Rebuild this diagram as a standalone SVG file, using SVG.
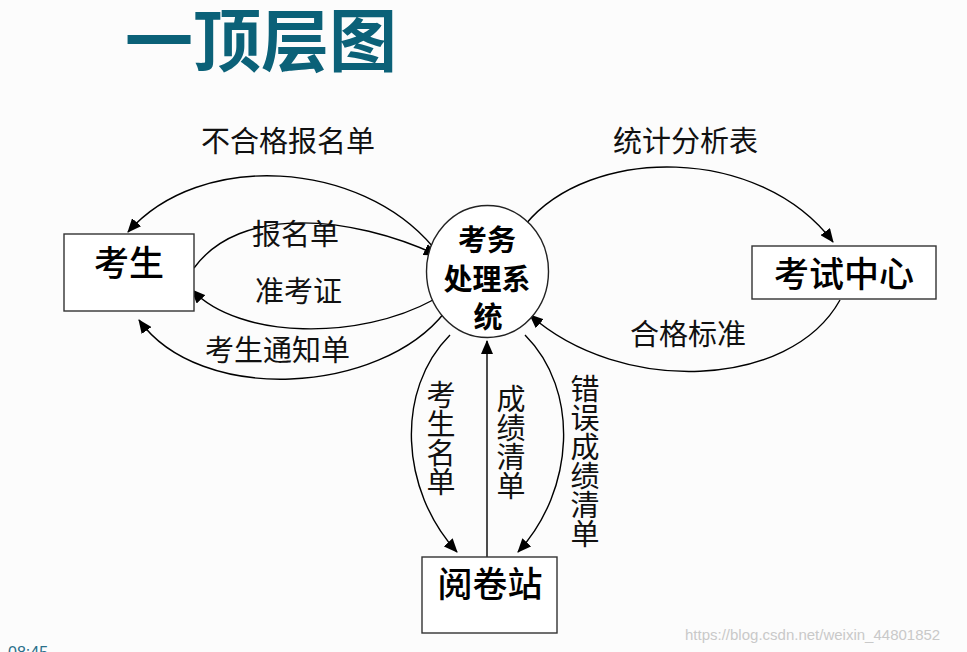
<svg xmlns="http://www.w3.org/2000/svg" width="967" height="652" viewBox="0 0 967 652">
<style>
.lbl{font-family:"Noto Sans CJK SC","Liberation Sans",sans-serif;font-size:29px;fill:#111;}
.vl{writing-mode:vertical-rl;}
.node{font-family:"Noto Sans CJK SC","Liberation Sans",sans-serif;font-size:35px;font-weight:500;fill:#000;text-anchor:middle;}
.ctr{font-family:"Noto Sans CJK SC","Liberation Sans",sans-serif;font-size:29px;font-weight:700;fill:#000;text-anchor:middle;}
.box{fill:#fff;stroke:#333;stroke-width:1.4;}
.edge{fill:none;stroke:#000;stroke-width:1.4;}
</style>
<defs>
<marker id="ah" viewBox="0 0 14 12" refX="13" refY="6" markerWidth="14" markerHeight="12" markerUnits="userSpaceOnUse" orient="auto">
<path d="M0,0 L14,6 L0,12 Z" fill="#000"/>
</marker>
</defs>
<rect width="967" height="652" fill="#fcfcfc"/>
<text x="125" y="66" font-family="'Noto Sans CJK SC',sans-serif" font-size="68" font-weight="700" fill="#0b6178">一顶层图</text>

<g id="connectors">
<path class="edge" d="M433,247 C360,160 200,150 128,232" marker-end="url(#ah)"/>
<path class="edge" d="M194,268 C240,205 350,215 437,255" marker-end="url(#ah)"/>
<path class="edge" d="M433,300 C360,340 240,340 192,290" marker-end="url(#ah)"/>
<path class="edge" d="M445,312 C380,395 200,405 139,320" marker-end="url(#ah)"/>
<path class="edge" d="M525,225 C590,145 760,145 833,242" marker-end="url(#ah)"/>
<path class="edge" d="M840,300 C790,390 620,395 530,315" marker-end="url(#ah)"/>
<path class="edge" d="M450,335 C395,390 400,490 457,552" marker-end="url(#ah)"/>
<path class="edge" d="M487,557 L487,341" marker-end="url(#ah)"/>
<path class="edge" d="M525,335 C580,390 575,490 518,552" marker-end="url(#ah)"/>
</g>

<g id="labels">
<text class="lbl" x="201" y="152">不合格报名单</text>
<text class="lbl" x="613" y="152">统计分析表</text>
<text class="lbl" x="252" y="245">报名单</text>
<text class="lbl" x="255" y="302">准考证</text>
<text class="lbl" x="205" y="361">考生通知单</text>
<text class="lbl" x="630" y="345">合格标准</text>
<text class="lbl vl" x="441" y="380">考生名单</text>
<text class="lbl vl" x="511" y="384">成绩清单</text>
<text class="lbl vl" x="585" y="374">错误成绩清单</text>
</g>

<g id="node-kaosheng">
<rect class="box" x="64" y="234" width="130" height="77"/>
<text class="node" x="129" y="276">考生</text>
</g>
<g id="node-system">
<ellipse cx="487.5" cy="271.5" rx="61" ry="66" fill="#fff" stroke="#222" stroke-width="1.4"/>
<text class="ctr" x="487" y="251">考务</text>
<text class="ctr" x="487" y="290">处理系</text>
<text class="ctr" x="488" y="328">统</text>
</g>
<g id="node-center">
<rect class="box" x="752" y="246" width="184" height="53"/>
<text class="node" x="844" y="287">考试中心</text>
</g>
<g id="node-yuejuan">
<rect class="box" x="422" y="557" width="135" height="76"/>
<text class="node" x="490" y="597">阅卷站</text>
</g>

<text x="8" y="658" font-family="'Liberation Sans',sans-serif" font-size="16" fill="#2a6f8a">08:45</text>
<text x="685" y="640" font-family="'Liberation Sans',sans-serif" font-size="15" fill="#c9c9c9">https://blog.csdn.net/weixin_44801852</text>
</svg>
